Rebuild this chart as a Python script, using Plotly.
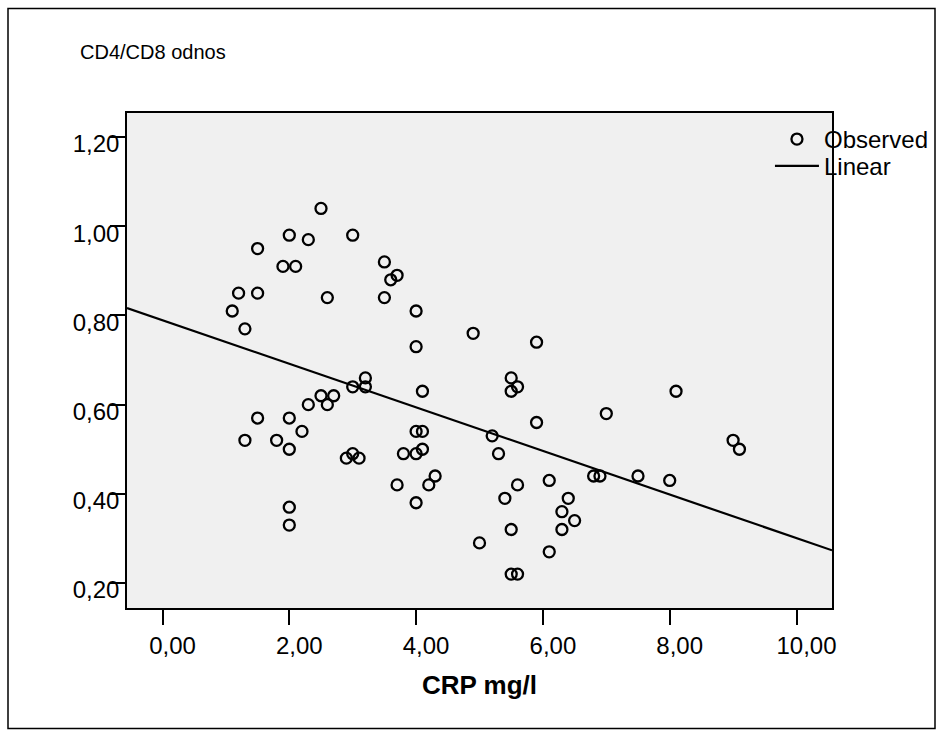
import numpy as np
import plotly.graph_objects as go

# CRP (mg/l) and CD4/CD8 ratio per patient
crp = [
    2.5, 2.0, 2.3, 3.0, 1.5, 1.9, 2.1, 3.5, 3.7, 3.6,
    1.2, 1.5, 2.6, 3.5, 1.1, 4.0, 1.3, 4.0,
    3.2, 3.0, 3.2, 4.1, 2.5, 2.7, 2.3, 2.6, 1.5, 2.0,
    2.2, 1.3, 1.8, 2.0, 2.9, 3.0, 3.1, 4.0, 4.1, 3.8,
    4.0, 4.1, 4.3, 4.2, 3.7, 4.0, 2.0, 2.0,
    4.9, 5.9, 5.5, 5.6, 5.5, 8.1, 7.0, 5.9, 5.2, 5.3,
    9.0, 9.1, 5.6, 6.1, 6.8, 6.9, 7.5, 8.0, 5.4, 6.4,
    6.3, 6.5, 6.3, 5.5, 5.0, 6.1, 5.5, 5.6,
]
cd4cd8 = [
    1.04, 0.98, 0.97, 0.98, 0.95, 0.91, 0.91, 0.92, 0.89, 0.88,
    0.85, 0.85, 0.84, 0.84, 0.81, 0.81, 0.77, 0.73,
    0.66, 0.64, 0.64, 0.63, 0.62, 0.62, 0.60, 0.60, 0.57, 0.57,
    0.54, 0.52, 0.52, 0.50, 0.48, 0.49, 0.48, 0.54, 0.54, 0.49,
    0.49, 0.50, 0.44, 0.42, 0.42, 0.38, 0.37, 0.33,
    0.76, 0.74, 0.66, 0.64, 0.63, 0.63, 0.58, 0.56, 0.53, 0.49,
    0.52, 0.50, 0.42, 0.43, 0.44, 0.44, 0.44, 0.43, 0.39, 0.39,
    0.36, 0.34, 0.32, 0.32, 0.29, 0.27, 0.22, 0.22,
]

x_ticks = [0, 2, 4, 6, 8, 10]
x_tick_text = ["0,00", "2,00", "4,00", "6,00", "8,00", "10,00"]
y_ticks = [0.2, 0.4, 0.6, 0.8, 1.0, 1.2]
y_tick_text = ["0,20", "0,40", "0,60", "0,80", "1,00", "1,20"]

x_range = [-0.56, 10.56]
y_range = [0.144, 1.254]

# least-squares linear fit across the visible x range
slope, intercept = np.polyfit(crp, cd4cd8, 1)
fit_x = np.array(x_range)
fit_y = intercept + slope * fit_x

FONT = "Liberation Sans, Arial, sans-serif"
legend_style = dict(xanchor="left", yanchor="top", bgcolor="rgba(0,0,0,0)",
                    font=dict(size=24, family=FONT, color="black"),
                    itemwidth=44)

fig = go.Figure()
fig.add_trace(go.Scatter(
    x=crp, y=cd4cd8, mode="markers", name="Observed", legend="legend",
    marker=dict(symbol="circle-open", size=11, color="black",
                line=dict(width=2.3, color="black")),
))
fig.add_trace(go.Scatter(
    x=fit_x, y=fit_y, mode="lines", name="Linear", legend="legend2",
    line=dict(color="black", width=2.2),
))

fig.update_layout(
    width=943, height=731,
    margin=dict(l=127, r=111, t=113, b=123, autoexpand=False),
    paper_bgcolor="white",
    plot_bgcolor="#f0f0f0",
    font=dict(family=FONT, color="black"),
    title=dict(text="CD4/CD8 odnos", x=80 / 943, xanchor="left",
               y=1 - 52 / 731, yanchor="middle", yref="container",
               font=dict(size=20, family=FONT, color="black")),
    showlegend=True,
    legend=dict(x=0.912, y=0.992, **legend_style),
    legend2=dict(x=0.912, y=0.938, **legend_style),
    xaxis=dict(
        range=x_range, tickmode="array", tickvals=x_ticks, ticktext=x_tick_text,
        showgrid=False, zeroline=False, showline=True, linecolor="black",
        linewidth=1.5, mirror=True, ticks="outside", ticklen=15, tickwidth=2,
        tickcolor="black", tickfont=dict(size=24, family=FONT),
        ticklabelshift=10,
        title=dict(text="<b>CRP mg/l</b>", font=dict(size=26, family=FONT),
                   standoff=18),
    ),
    yaxis=dict(
        range=y_range, tickmode="array", tickvals=y_ticks, ticktext=y_tick_text,
        showgrid=False, zeroline=False, showline=True, linecolor="black",
        linewidth=1.5, mirror=True, ticks="outside", ticklen=15, tickwidth=1.5,
        tickcolor="black", tickfont=dict(size=24, family=FONT),
        ticklabelstandoff=-14, ticklabelshift=7,
    ),
    shapes=[dict(type="rect", xref="paper", yref="paper",
                 x0=(8 - 127) / 705, x1=(935 - 127) / 705,
                 y0=-(729 - 608.3) / 495.6, y1=1 + (112.7 - 8) / 495.6,
                 line=dict(color="black", width=1.5), layer="below")],
)

fig.write_html("out.html")
